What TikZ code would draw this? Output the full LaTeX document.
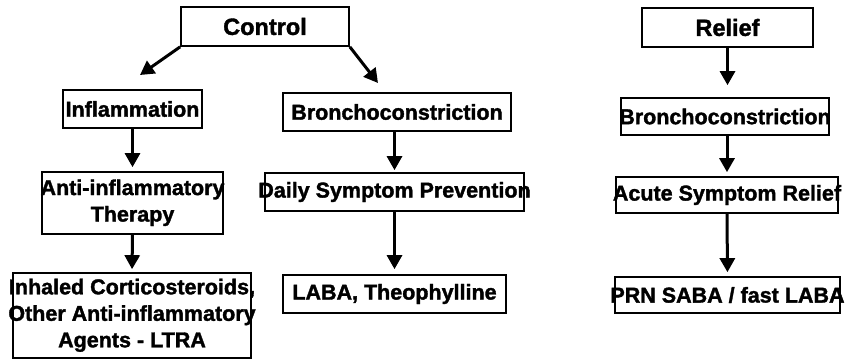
\documentclass[tikz,border=0pt]{standalone}
\usepackage{fontspec}
\setmainfont{Liberation Sans}[BoldFeatures={FakeBold=1.6}]
\usetikzlibrary{arrows.meta}
\begin{document}
\begin{tikzpicture}[x=1pt,y=-1pt,
  box/.style={draw, line width=1.7pt, inner sep=0pt, font=\bfseries\fontsize{21.5}{26.5}\selectfont},
  head/.style={box, font=\bfseries\fontsize{23.5}{28}\selectfont},
  arr/.style={line width=3pt, -{Triangle[width=15pt,length=14pt]}}]
\useasboundingbox (0,0) rectangle (845,360);
\newcommand{\bx}[1]{\makebox[0pt]{\begin{tabular}{@{}c@{}}#1\end{tabular}}}
% left / middle column
\node[head, minimum width=168pt, minimum height=39pt] (ctrl) at (265,26.5) {\makebox[0pt]{Control}};
\node[box, minimum width=139pt, minimum height=38pt] (infl) at (132.5,109) {\makebox[0pt]{Inflammation}};
\node[box, minimum width=228pt, minimum height=38pt] (bronL) at (397,112) {\makebox[0pt]{Bronchoconstriction}};
\node[box, minimum width=181pt, minimum height=62pt] (anti) at (132.5,203) {\bx{Anti-inflammatory\\Therapy}};
\node[box, minimum width=259pt, minimum height=38pt] (daily) at (394.5,192) {\makebox[0pt]{Daily Symptom Prevention}};
\node[box, minimum width=238pt, minimum height=85pt] (inh) at (132,315.5) {\bx{Inhaled Corticosteroids,\\Other Anti-inflammatory\\Agents - LTRA}};
\node[box, minimum width=223pt, minimum height=38pt] (laba) at (394.5,294) {\makebox[0pt]{LABA, Theophylline}};
% right column
\node[head, minimum width=171pt, minimum height=39pt] (relief) at (727.5,27.5) {\makebox[0pt]{Relief}};
\node[box, minimum width=208pt, minimum height=37pt] (bronR) at (725,116.5) {\makebox[0pt]{Bronchoconstriction}};
\node[box, minimum width=222pt, minimum height=36pt] (acute) at (727,195) {\makebox[0pt]{Acute Symptom Relief}};
\node[box, minimum width=225pt, minimum height=36pt] (prn) at (727.5,295) {\makebox[0pt]{PRN SABA / fast LABA}};
% arrow tips
\coordinate (tipL) at (140,75);
\coordinate (tipR) at (378,83);
% connectors
\draw[arr] (ctrl.south west) -- (tipL);
\draw[arr] (ctrl.south east) -- (tipR);
\draw[arr, shorten >=4pt] (infl.south) -- (anti.north);
\draw[arr, shorten >=3pt] (anti.south) -- (inh.north);
\draw[arr, shorten >=2pt] (daily.north |- bronL.south) -- (daily.north);
\draw[arr, shorten >=5pt] (daily.south) -- (laba.north);
\draw[arr, shorten >=12pt] (relief.south) -- (relief.south |- bronR.north);
\draw[arr, shorten >=4pt] (bronR.south -| acute.north) -- (acute.north);
\draw[arr, shorten >=4pt] (acute.south) -- (prn.north);
\end{tikzpicture}
\end{document}
